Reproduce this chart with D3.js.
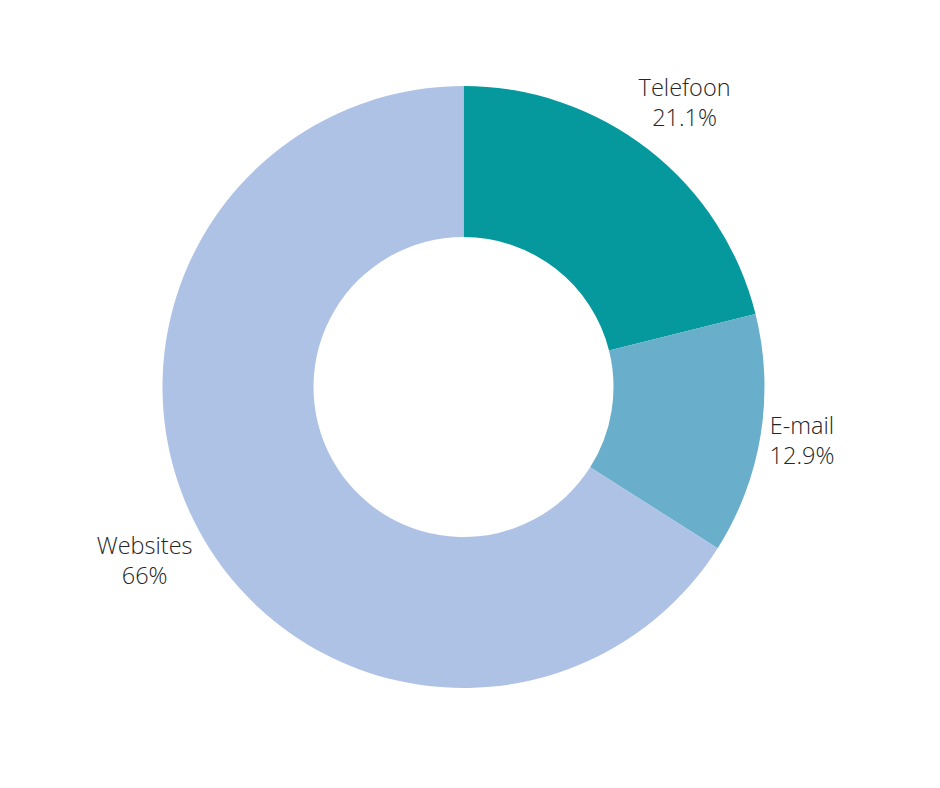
<!DOCTYPE html>
<html>
<head>
<meta charset="utf-8">
<script src="https://cdn.jsdelivr.net/npm/d3@7"></script>
<style>
  body { margin: 0; background: #fff; }
  text { font-family: "Open Sans", sans-serif; font-weight: 300; }
</style>
</head>
<body>
<div id="chart"></div>
<script>
// data
var labels = ["Telefoon", "E-mail", "Websites"];
var values = [21.1, 12.9, 66];
var colors = ["#05999e", "#69aecb", "#adc2e4"];

var width = 940, height = 788;
var cx = 463.5, cy = 387;
var outerR = 301, innerR = 150;
var labelGap = 6;
var fontSize = 23.5, lineH = 30;

var svg = d3.select("#chart").append("svg")
    .attr("width", width)
    .attr("height", height);

var g = svg.append("g")
    .attr("transform", "translate(" + cx + "," + cy + ")");

var pie = d3.pie().sort(null).value(function(d) { return d.value; });
var arc = d3.arc().innerRadius(innerR).outerRadius(outerR);

var data = labels.map(function(l, i) {
    return { label: l, value: values[i], color: colors[i] };
});
var arcs = pie(data);

g.selectAll("path.slice")
    .data(arcs)
  .enter().append("path")
    .attr("class", "slice")
    .attr("d", arc)
    .style("fill", function(d) { return d.data.color; });

// distance from origin to nearest point of a box centred at (x, y)
function nearest(x, y, w, h) {
    var nx = Math.max(Math.abs(x) - w / 2, 0);
    var ny = Math.max(Math.abs(y) - h / 2, 0);
    return Math.sqrt(nx * nx + ny * ny);
}

// outside labels: box centre slides out along the mid-angle ray
// until the whole box clears the rim by labelGap
var lab = g.selectAll("g.lab")
    .data(arcs)
  .enter().append("g")
    .attr("class", "lab");

lab.each(function(d) {
    var el = d3.select(this);
    var t = el.append("text")
        .attr("text-anchor", "middle")
        .style("font-size", fontSize + "px")
        .style("fill", "#262626");
    t.append("tspan").attr("x", 0).attr("dy", 0).text(d.data.label);
    t.append("tspan").attr("x", 0).attr("dy", lineH).text(d.data.value + "%");

    var bb = t.node().getBBox();
    var a = (d.startAngle + d.endAngle) / 2;
    var sx = Math.sin(a), sy = -Math.cos(a);
    var target = outerR + labelGap;
    var lo = 0, hi = outerR * 2;
    for (var k = 0; k < 50; k++) {
        var mid = (lo + hi) / 2;
        if (nearest(mid * sx, mid * sy, bb.width, bb.height) < target) lo = mid;
        else hi = mid;
    }
    var bx = hi * sx, by = hi * sy;
    var ox = bx - (bb.x + bb.width / 2);
    var oy = by - (bb.y + bb.height / 2) - 2;  // bbox sits a bit low vs ink
    el.attr("transform", "translate(" + ox + "," + oy + ")");
});
</script>
</body>
</html>
